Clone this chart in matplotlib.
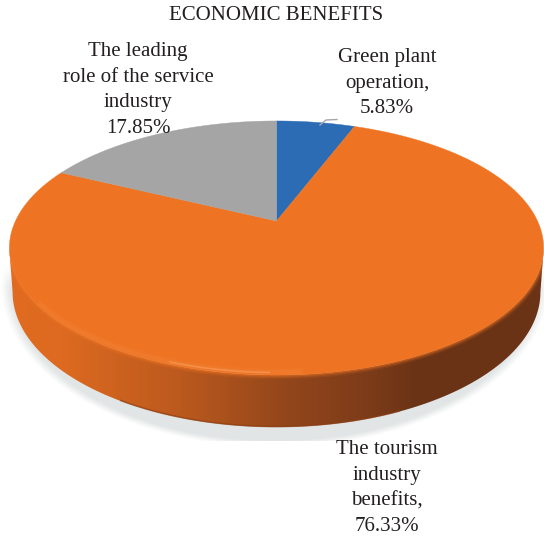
import numpy as np
import matplotlib
matplotlib.use("Agg")
import matplotlib.pyplot as plt
from matplotlib.colors import LinearSegmentedColormap
from matplotlib.patches import Polygon

title = "ECONOMIC BENEFITS"
shares = [5.83, 76.33, 17.85]
names = ["Green plant\noperation,", "The tourism\nindustry\nbenefits,", "The leading\nrole of the service\nindustry"]
colors = ["#2b6cb5", "#ee7423", "#a5a5a5"]
label_xy = [(387, 48), (387, 440), (138, 42)]

W, H = 544, 537
cx, cy = 276.5, 221
scale_x, scale_y, tilt = 261, 121.3, 0.2126
mid_y = 248

plt.rcParams["font.family"] = ["Liberation Serif", "DejaVu Serif"]
fig = plt.figure(figsize=(W / 100, H / 100), dpi=100)
ax = fig.add_axes([0, 0, 1, 1])


def rim(frac):
    # clockwise from 12 o'clock, pushed through a simple perspective
    t = 2 * np.pi * np.asarray(frac)
    X, Y = np.sin(t), np.cos(t)
    d = 1 + tilt * Y
    return cx + scale_x * X / d, cy - scale_y * Y / d


fr = np.linspace(0, 1, 1441)
rx, ry = rim(fr)
front = np.argsort(rx)
front = front[ry[front] >= mid_y]
fx, fy = rx[front], ry[front]

# soft shadow under the disc
gx, gy = np.meshgrid(np.arange(W) + .5, np.arange(H) + .5)
r = np.hypot((gx - 275) / 274, (gy - 285) / 162)
fade = np.clip((1.0 - r) / 0.04, 0, 1) * np.clip((gy - 262) / 25, 0, 1) * (gy < 441)
shadow = np.zeros((H, W, 4))
shadow[..., :3] = matplotlib.colors.to_rgb("#e2e5e5")
shadow[..., 3] = fade
ax.imshow(shadow, extent=(0, W, H, 0), aspect="auto", zorder=1)

# side wall, lit from the left
lx = cx + (fx - cx) * 0.988
ly = mid_y + 44 + (fy - mid_y) * 1.063
wall_xy = np.r_[np.c_[fx, fy], np.c_[lx, ly][::-1]]
wall_cmap = LinearSegmentedColormap.from_list("wall", [
    (0.0, "#e06b20"), (0.10, "#dd6a20"), (0.32, "#bb591e"), (0.52, "#93461b"),
    (0.68, "#7b3b19"), (0.76, "#6b3316"), (1.0, "#6b3316")])
grad = np.linspace(0, 1, 512)[None, :]
im = ax.imshow(grad, cmap=wall_cmap, extent=(8, 544, 440, 230), aspect="auto", zorder=2, interpolation="bilinear")
clip = Polygon(wall_xy, closed=True, transform=ax.transData, fc="none", ec="none")
ax.add_patch(clip)
im.set_clip_path(clip)

# darker lip along the bottom of the wall
mask = (lx > 120) & (lx < 400)
ax.plot(lx[mask], ly[mask] - .5, color="#8a3f15", lw=1.2, alpha=.6, zorder=2.5)

# soft edge where the face meets the wall
for lw, a in [(6, .12), (4, .2), (2.4, .35)]:
    edge, = ax.plot(fx, fy, color="#ee7423", lw=lw, alpha=a, zorder=2.6)
    edge.set_clip_path(clip)

# top face slices
start = 0
for v, c in zip(shares, colors):
    end = start + v / sum(shares)
    ax_x, ax_y = rim(np.linspace(start, end, 300))
    ax.add_patch(Polygon(np.r_[[[cx, cy]], np.c_[ax_x, ax_y]], closed=True, fc=c, ec=c, lw=0.3, zorder=3))
    start = end

# bevel highlight along the front rim
mask = (fx > 40) & (fx < 300)
for lw, a in [(5, .10), (2.5, .18)]:
    ax.plot(fx[mask], fy[mask] - 3, color="#f79045", lw=lw, alpha=a, zorder=4)
mask = (fx > 170) & (fx < 270)
ax.plot(fx[mask], fy[mask] - 2.5, color="#f9a468", lw=1.2, alpha=.5, zorder=4)

# leader line for the small slice
ax.plot([320, 326, 337], [125, 120, 119.5], color="#a5a5a5", lw=1, zorder=4)

ax.text(276, 16, title, ha="center", va="center", fontsize=15, color="#231f20", zorder=6)
for v, n, (tx, ty) in zip(shares, names, label_xy):
    ax.text(tx, ty, f"{n}\n{v:.2f}%", ha="center", va="top", fontsize=15, color="#231f20",
            linespacing=1.48, zorder=6)

ax.set_xlim(0, W)
ax.set_ylim(H, 0)
ax.axis("off")
fig.savefig("out.png", dpi=100)
